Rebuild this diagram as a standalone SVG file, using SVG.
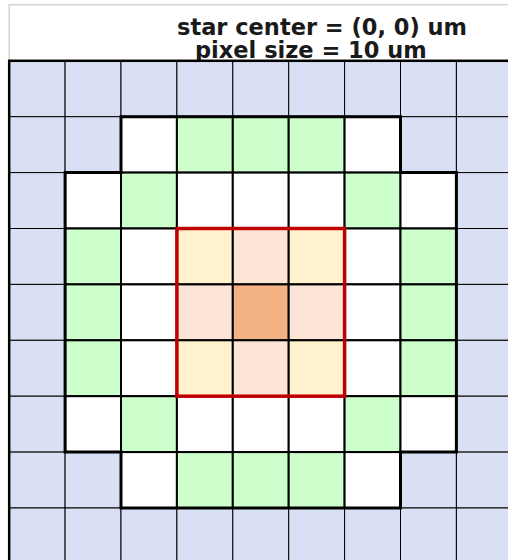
<svg xmlns="http://www.w3.org/2000/svg" width="508" height="560" viewBox="0 0 508 560">
<style>
.bg{fill:#ffffff}
.title{fill:#ffffff;stroke:#d4d4d4;stroke-width:1.5}
.t{font-family:"DejaVu Sans",Verdana,sans-serif;font-weight:bold;font-size:22.5px;fill:#1a1a1a}
.b{fill:#DAE0F3;stroke:#000;stroke-width:1}
.w{fill:#ffffff;stroke:#000;stroke-width:2}
.g{fill:#CCFFCC;stroke:#000;stroke-width:2}
.y{fill:#FFF2CC;stroke:#000;stroke-width:2}
.p{fill:#FCE4D6;stroke:#000;stroke-width:2}
.o{fill:#F4B183;stroke:#000;stroke-width:2}
.outline{fill:none;stroke:#000;stroke-width:3;stroke-linejoin:miter}
.frame{fill:none;stroke:#000;stroke-width:2.5}
.star{fill:none;stroke:#C00000;stroke-width:3.5}
</style>
<rect class="bg" x="0" y="0" width="508" height="560"/>
<g id="title">
<rect class="title" x="9.2" y="4.7" width="520" height="56"/>
<text class="t" x="177" y="35">star center = (0, 0) um</text>
<text class="t" x="195" y="57.5">pixel size = 10 um</text>
</g>
<g id="grid">
<g id="row0">
<rect class="b" x="9.2" y="60.8" width="55.9" height="55.9"/>
<rect class="b" x="65.1" y="60.8" width="55.9" height="55.9"/>
<rect class="b" x="121" y="60.8" width="55.9" height="55.9"/>
<rect class="b" x="176.9" y="60.8" width="55.9" height="55.9"/>
<rect class="b" x="232.8" y="60.8" width="55.9" height="55.9"/>
<rect class="b" x="288.7" y="60.8" width="55.9" height="55.9"/>
<rect class="b" x="344.6" y="60.8" width="55.9" height="55.9"/>
<rect class="b" x="400.5" y="60.8" width="55.9" height="55.9"/>
<rect class="b" x="456.4" y="60.8" width="55.9" height="55.9"/>
</g>
<g id="row1">
<rect class="b" x="9.2" y="116.7" width="55.9" height="55.9"/>
<rect class="b" x="65.1" y="116.7" width="55.9" height="55.9"/>
<rect class="w" x="121" y="116.7" width="55.9" height="55.9"/>
<rect class="g" x="176.9" y="116.7" width="55.9" height="55.9"/>
<rect class="g" x="232.8" y="116.7" width="55.9" height="55.9"/>
<rect class="g" x="288.7" y="116.7" width="55.9" height="55.9"/>
<rect class="w" x="344.6" y="116.7" width="55.9" height="55.9"/>
<rect class="b" x="400.5" y="116.7" width="55.9" height="55.9"/>
<rect class="b" x="456.4" y="116.7" width="55.9" height="55.9"/>
</g>
<g id="row2">
<rect class="b" x="9.2" y="172.6" width="55.9" height="55.9"/>
<rect class="w" x="65.1" y="172.6" width="55.9" height="55.9"/>
<rect class="g" x="121" y="172.6" width="55.9" height="55.9"/>
<rect class="w" x="176.9" y="172.6" width="55.9" height="55.9"/>
<rect class="w" x="232.8" y="172.6" width="55.9" height="55.9"/>
<rect class="w" x="288.7" y="172.6" width="55.9" height="55.9"/>
<rect class="g" x="344.6" y="172.6" width="55.9" height="55.9"/>
<rect class="w" x="400.5" y="172.6" width="55.9" height="55.9"/>
<rect class="b" x="456.4" y="172.6" width="55.9" height="55.9"/>
</g>
<g id="row3">
<rect class="b" x="9.2" y="228.5" width="55.9" height="55.9"/>
<rect class="g" x="65.1" y="228.5" width="55.9" height="55.9"/>
<rect class="w" x="121" y="228.5" width="55.9" height="55.9"/>
<rect class="y" x="176.9" y="228.5" width="55.9" height="55.9"/>
<rect class="p" x="232.8" y="228.5" width="55.9" height="55.9"/>
<rect class="y" x="288.7" y="228.5" width="55.9" height="55.9"/>
<rect class="w" x="344.6" y="228.5" width="55.9" height="55.9"/>
<rect class="g" x="400.5" y="228.5" width="55.9" height="55.9"/>
<rect class="b" x="456.4" y="228.5" width="55.9" height="55.9"/>
</g>
<g id="row4">
<rect class="b" x="9.2" y="284.4" width="55.9" height="55.9"/>
<rect class="g" x="65.1" y="284.4" width="55.9" height="55.9"/>
<rect class="w" x="121" y="284.4" width="55.9" height="55.9"/>
<rect class="p" x="176.9" y="284.4" width="55.9" height="55.9"/>
<rect class="o" x="232.8" y="284.4" width="55.9" height="55.9"/>
<rect class="p" x="288.7" y="284.4" width="55.9" height="55.9"/>
<rect class="w" x="344.6" y="284.4" width="55.9" height="55.9"/>
<rect class="g" x="400.5" y="284.4" width="55.9" height="55.9"/>
<rect class="b" x="456.4" y="284.4" width="55.9" height="55.9"/>
</g>
<g id="row5">
<rect class="b" x="9.2" y="340.3" width="55.9" height="55.9"/>
<rect class="g" x="65.1" y="340.3" width="55.9" height="55.9"/>
<rect class="w" x="121" y="340.3" width="55.9" height="55.9"/>
<rect class="y" x="176.9" y="340.3" width="55.9" height="55.9"/>
<rect class="p" x="232.8" y="340.3" width="55.9" height="55.9"/>
<rect class="y" x="288.7" y="340.3" width="55.9" height="55.9"/>
<rect class="w" x="344.6" y="340.3" width="55.9" height="55.9"/>
<rect class="g" x="400.5" y="340.3" width="55.9" height="55.9"/>
<rect class="b" x="456.4" y="340.3" width="55.9" height="55.9"/>
</g>
<g id="row6">
<rect class="b" x="9.2" y="396.2" width="55.9" height="55.9"/>
<rect class="w" x="65.1" y="396.2" width="55.9" height="55.9"/>
<rect class="g" x="121" y="396.2" width="55.9" height="55.9"/>
<rect class="w" x="176.9" y="396.2" width="55.9" height="55.9"/>
<rect class="w" x="232.8" y="396.2" width="55.9" height="55.9"/>
<rect class="w" x="288.7" y="396.2" width="55.9" height="55.9"/>
<rect class="g" x="344.6" y="396.2" width="55.9" height="55.9"/>
<rect class="w" x="400.5" y="396.2" width="55.9" height="55.9"/>
<rect class="b" x="456.4" y="396.2" width="55.9" height="55.9"/>
</g>
<g id="row7">
<rect class="b" x="9.2" y="452.1" width="55.9" height="55.9"/>
<rect class="b" x="65.1" y="452.1" width="55.9" height="55.9"/>
<rect class="w" x="121" y="452.1" width="55.9" height="55.9"/>
<rect class="g" x="176.9" y="452.1" width="55.9" height="55.9"/>
<rect class="g" x="232.8" y="452.1" width="55.9" height="55.9"/>
<rect class="g" x="288.7" y="452.1" width="55.9" height="55.9"/>
<rect class="w" x="344.6" y="452.1" width="55.9" height="55.9"/>
<rect class="b" x="400.5" y="452.1" width="55.9" height="55.9"/>
<rect class="b" x="456.4" y="452.1" width="55.9" height="55.9"/>
</g>
<g id="row8">
<rect class="b" x="9.2" y="508" width="55.9" height="55.9"/>
<rect class="b" x="65.1" y="508" width="55.9" height="55.9"/>
<rect class="b" x="121" y="508" width="55.9" height="55.9"/>
<rect class="b" x="176.9" y="508" width="55.9" height="55.9"/>
<rect class="b" x="232.8" y="508" width="55.9" height="55.9"/>
<rect class="b" x="288.7" y="508" width="55.9" height="55.9"/>
<rect class="b" x="344.6" y="508" width="55.9" height="55.9"/>
<rect class="b" x="400.5" y="508" width="55.9" height="55.9"/>
<rect class="b" x="456.4" y="508" width="55.9" height="55.9"/>
</g>
</g>
<g id="connectors">
<path id="footprint" class="outline" d="M121,116.7 H400.5 V172.6 H456.4 V452.1 H400.5 V508 H121 V452.1 H65.1 V172.6 H121 Z"/>
<rect id="frame" class="frame" x="9.2" y="60.8" width="503.1" height="503.1"/>
<rect id="star" class="star" x="176.9" y="228.5" width="167.7" height="167.7"/>
</g>
</svg>
